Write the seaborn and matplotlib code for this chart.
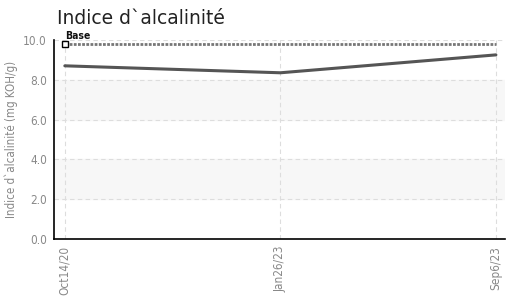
import pandas as pd
import numpy as np
import matplotlib
matplotlib.use("Agg")
import matplotlib.pyplot as plt
import seaborn as sns

# data
dates = ["Oct14/20", "Jan26/23", "Sep6/23"]
values = [8.7, 8.35, 9.25]
base_value = 9.8

sns.set_style("white")
plt.rcParams['font.family'] = ['DejaVu Sans']

df = pd.DataFrame({"date": dates, "value": values, "pos": range(len(dates))})

fig = plt.figure(figsize=(5.08, 2.96), dpi=100)
ax = fig.add_axes([0.106, 0.193, 0.888, 0.672])

# alternating bands
for lo, hi in [(2, 4), (6, 8)]:
    ax.axhspan(lo, hi, color="#f7f7f7", zorder=0)

# base line
ax.plot(df["pos"], [base_value] * len(df), color="#777777", lw=2, ls=(0, (1, 0.5)), zorder=2)
ax.plot([0], [base_value], marker="s", ms=4, mfc="white", mec="black", mew=1, zorder=4)
ax.text(0, base_value + 0.15, "Base", fontsize=7.5, color="#111111", ha="left", va="bottom",
        fontstretch="condensed", fontweight="bold")

sns.lineplot(data=df, x="pos", y="value", color="#555555", lw=2.2, ax=ax, zorder=3)

ax.set_xlim(-0.051, 2.042)
ax.set_ylim(0, 10)
ax.set_xticks(df["pos"])
ax.set_xticklabels(dates, rotation=90, color="#888888", fontsize=8.5, fontstretch="condensed")
ax.set_yticks([0, 2, 4, 6, 8, 10])
ax.set_yticklabels(["0.0", "2.0", "4.0", "6.0", "8.0", "10.0"], color="#888888", fontsize=8.5,
                   fontstretch="condensed")
ax.tick_params(axis="both", length=4, width=1, color="black", direction="out", pad=1)
ax.grid(True, ls=(0, (4, 3)), color="#dddddd", lw=0.8)
ax.set_axisbelow(True)

for s in ["top", "right"]:
    ax.spines[s].set_visible(False)
for s in ["left", "bottom"]:
    ax.spines[s].set_color("black")
    ax.spines[s].set_linewidth(1.2)

ax.set_xlabel("")
ax.set_ylabel("Indice d`alcalinité (mg KOH/g)", color="#888888", fontsize=8.3, fontstretch="condensed",
              labelpad=4)
fig.text(0.112, 0.905, "Indice d`alcalinité", fontsize=13.5, color="#222222",
         family="DejaVu Sans", fontstretch="normal", ha="left", va="bottom")

fig.savefig("out.png", dpi=100)
